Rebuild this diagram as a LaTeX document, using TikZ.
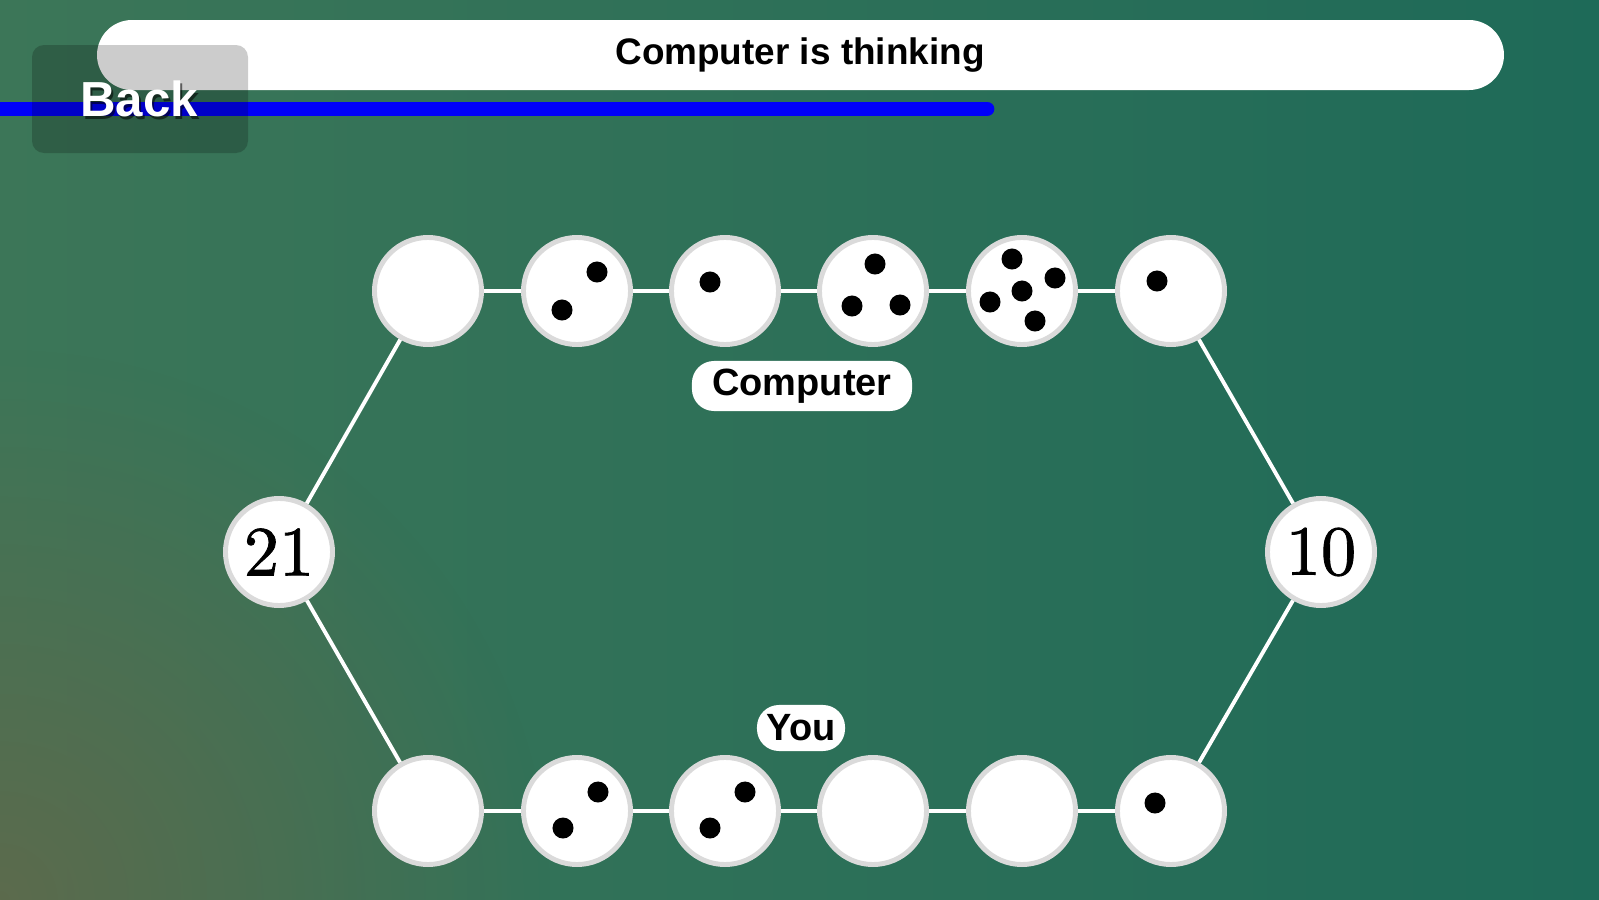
\documentclass[tikz,border=0pt]{standalone}
\usepackage{fontspec}
\usetikzlibrary{shadings,fadings}
\newfontfamily\uifont{Liberation Sans}
\newfontfamily\numfont{lmroman10-regular.otf}[FakeBold=1.2]
\definecolor{bgL}{RGB}{60,118,88}
\definecolor{bgM}{RGB}{50,124,95}
\definecolor{bgR}{RGB}{30,106,88}
\definecolor{bgBrown}{RGB}{100,104,74}
\definecolor{ringgray}{RGB}{218,218,218}
\definecolor{progblue}{RGB}{0,0,250}
\tikzfading[name=cornerfade, inner color=transparent!0, outer color=transparent!100]
\begin{document}
\begin{tikzpicture}[x=0.01cm,y=-0.01cm,
  cell/.style={circle, fill=white, draw=ringgray, line width=1.4pt, minimum size=1.07cm, inner sep=0pt},
  numcell/.style={cell, font=\numfont\fontsize{20}{24}\selectfont},
  link/.style={draw=white, line width=1.1pt},
  pip/.style={fill=black},
  pill/.style={rounded corners=0.22cm, fill=white, inner sep=0pt, font=\uifont\bfseries\fontsize{10.8}{13}\selectfont},
  uitext/.style={font=\uifont\bfseries\fontsize{10.5}{12}\selectfont, text=black}]
\useasboundingbox (0,0) rectangle (1599,900);
\shade[left color=bgL, middle color=bgM, right color=bgR] (0,0) rectangle (1599,900);
\fill[bgBrown, fill opacity=0.8, path fading=cornerfade] (0,900) circle[radius=5.5cm];
% status bar
\fill[white, rounded corners=0.35cm] (97,20) rectangle (1504,90);
\node[uitext] (status) at (800,55) {Computer is thinking};
% progress bar
\coordinate (pstart) at (-10,109);
\coordinate (pend) at (987,109);
\draw[progblue, line width=4.2pt, line cap=round] (pstart) -- (pend);
% back button
\fill[black, fill opacity=0.2, rounded corners=0.12cm] (32,45) rectangle (248,153);
\node[font=\uifont\bfseries\fontsize{14}{16}\selectfont, text=black, text opacity=0.55] (backshadow) at (141,101.5) {Back};
\node[font=\uifont\bfseries\fontsize{14}{16}\selectfont, text=white] (back) at (139,99) {Back};
% cells
\node[cell] (t1) at (428,291) {};
\node[cell] (t2) at (577,291) {};
\node[cell] (t3) at (725,291) {};
\node[cell] (t4) at (873,291) {};
\node[cell] (t5) at (1022,291) {};
\node[cell] (t6) at (1171,291) {};
\node[cell] (b1) at (428,811) {};
\node[cell] (b2) at (577,811) {};
\node[cell] (b3) at (725,811) {};
\node[cell] (b4) at (873,811) {};
\node[cell] (b5) at (1022,811) {};
\node[cell] (b6) at (1171,811) {};
\node[numcell] (L) at (279,552) {21};
\node[numcell] (R) at (1321,552) {10};
% links
\draw[link] (t1) -- (t2);
\draw[link] (t2) -- (t3);
\draw[link] (t3) -- (t4);
\draw[link] (t4) -- (t5);
\draw[link] (t5) -- (t6);
\draw[link] (b1) -- (b2);
\draw[link] (b2) -- (b3);
\draw[link] (b3) -- (b4);
\draw[link] (b4) -- (b5);
\draw[link] (b5) -- (b6);
\draw[link] (t1) -- (L);
\draw[link] (L) -- (b1);
\draw[link] (t6) -- (R);
\draw[link] (R) -- (b6);
% pips
\begin{scope}[shift={(t2)}]
  \fill[pip] (20,-19) circle[radius=0.105cm] (-15,19) circle[radius=0.105cm];
\end{scope}
\begin{scope}[shift={(t3)}]
  \fill[pip] (-15,-9) circle[radius=0.105cm];
\end{scope}
\begin{scope}[shift={(t4)}]
  \fill[pip] (2,-27) circle[radius=0.105cm] (-21,15) circle[radius=0.105cm] (27,14) circle[radius=0.105cm];
\end{scope}
\begin{scope}[shift={(t5)}]
  \fill[pip] (-10,-32) circle[radius=0.105cm] (33,-13) circle[radius=0.105cm] (0,0) circle[radius=0.105cm] (-32,11) circle[radius=0.105cm] (13,30) circle[radius=0.105cm];
\end{scope}
\begin{scope}[shift={(t6)}]
  \fill[pip] (-14,-10) circle[radius=0.105cm];
\end{scope}
\begin{scope}[shift={(b2)}]
  \fill[pip] (21,-19) circle[radius=0.105cm] (-14,17) circle[radius=0.105cm];
\end{scope}
\begin{scope}[shift={(b3)}]
  \fill[pip] (20,-19) circle[radius=0.105cm] (-15,17) circle[radius=0.105cm];
\end{scope}
\begin{scope}[shift={(b6)}]
  \fill[pip] (-16,-8) circle[radius=0.105cm];
\end{scope}
% labels
\node[pill, minimum width=2.2cm, minimum height=0.5cm] (comp) at (802,386) {Computer};
\node[pill, minimum width=0.88cm, minimum height=0.46cm] (you) at (801,728) {You};
\end{tikzpicture}
\end{document}
